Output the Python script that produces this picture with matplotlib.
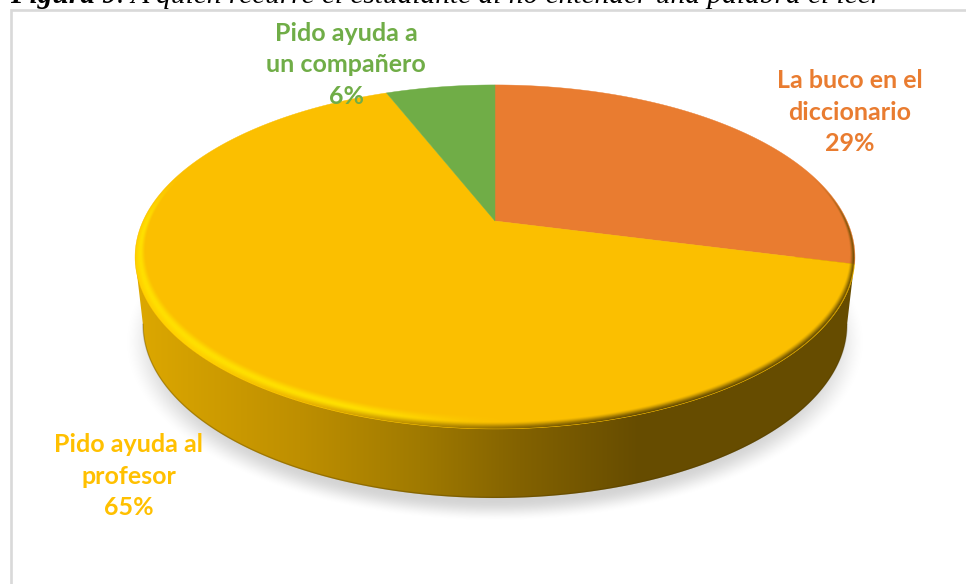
# %% IMPORTS
import numpy as np
import matplotlib
matplotlib.use("Agg")
import matplotlib.pyplot as plt
from matplotlib.patches import Polygon, PathPatch
from matplotlib.path import Path
from matplotlib.colors import to_rgb

# %% DATA
categories = ["La buco en el\ndiccionario", "Pido ayuda al\nprofesor", "Pido ayuda a\nun compañero"]
values = [29, 65, 6]
colors = ["#E97C30", "#FBBF00", "#70AD47"]
label_colors = ["#E97C30", "#FFC000", "#70AD47"]
label_x = [850, 129, 346]
label_y = [112, 476, 65]

title_bold = "Figura 9"
title_rest = ". A quién recurre el estudiante al no entender una palabra el leer"

# side wall colour along x
wall_x = [135, 300, 420, 520, 640, 860]
wall_c = ["#DDA800", "#BE8F00", "#A07A00", "#836200", "#664C00", "#664C00"]
# rim colours along x
rim_x = [200, 300, 420, 520, 640]
rim_edge = ["#FFD000", "#EDB400", "#B88C00", "#866400", "#664C00"]

# %% GEOMETRY
CX, CY = 495, 221          # centre of the pie as seen in perspective
A, B, K = 352.0, 164.5, 0.209
W, H = 966, 584


def project(theta):
    # theta clockwise from the top of the disc
    u, v = np.sin(theta), np.cos(theta)
    w = 1 + K * v
    return CX + A * u / w, CY - B * v / w


def ramp(x, xs, cs):
    rgb = np.array([to_rgb(c) for c in cs])
    return np.stack([np.interp(x, xs, rgb[:, i]) for i in range(3)], axis=-1)


def smooth(t):
    t = np.clip(t, 0, 1)
    return t * t * (3 - 2 * t)


def layer(rgb, alpha, z):
    img = np.zeros((H, W, 4))
    img[..., :3] = rgb
    img[..., 3] = alpha
    ax.imshow(img, extent=(0, W, H, 0), aspect="auto", zorder=z)


# %% FIGURE
fig = plt.figure(figsize=(W / 100, H / 100), dpi=100)
ax = fig.add_axes([0, 0, 1, 1])
yy, xx = np.mgrid[0:H, 0:W] + 0.5

# shadow:
r = np.hypot((xx - 495) / 372, (yy - 342) / 180)
layer(0.0, 0.17 * smooth((1 - r) / 0.12), 1)

# side wall, clipped to the outline of the lower disc:
t = np.linspace(np.pi / 2, 3 * np.pi / 2, 200)
low_x = 495 + 352 * np.sin(t)
low_y = 325 - 173 * np.cos(t)
wall_outline = np.vstack([[[855, 257]], np.column_stack([low_x, low_y]), [[135, 257]]])
wall_patch = PathPatch(Path(np.vstack([wall_outline, wall_outline[:1]]), closed=True),
                       transform=ax.transData, fc="none", ec="none")
ax.add_patch(wall_patch)
wall_im = ax.imshow(ramp(xx[:1], wall_x, wall_c), extent=(0, W, H, 0), aspect="auto", zorder=2)
wall_im.set_clip_path(wall_patch)
ax.plot(low_x, low_y - 0.6, color="#4A3700", lw=1.0, alpha=0.3, zorder=2.5)

# slices from the values:
start = 0.0
for i, val in enumerate(values):
    stop = start + val / sum(values) * 2 * np.pi
    arc = np.linspace(start, stop, 300)
    px, py = project(arc)
    pts = np.column_stack([np.r_[CX, px], np.r_[CY, py]])
    ax.add_patch(Polygon(pts, closed=True, fc=colors[i], ec=colors[i], lw=0.3, zorder=3))
    start = stop

# bevel on the rim of the disc:
inner = np.hypot((xx - 495) / 349, (yy - 250) / 164)
outer = np.hypot((xx - 495) / 360, (yy - 257) / 172)
band = np.clip((inner - 1) / np.maximum(inner - outer, 1e-3), 0, 1)
band[inner < 1] = 0
inside = np.clip((1 - outer) * 250, 0, 1)
fade = smooth((yy - 170) / 60)
glow = (1 - smooth((xx - 330) / 190)) * smooth(band / 0.55) * fade * inside
layer(to_rgb("#FFE000"), glow, 4)
layer(ramp(xx, rim_x, rim_edge), smooth((band - 0.5) / 0.5) * fade * inside, 4.1)

# frame of the chart area:
ax.plot([11, 11, W], [H, 10, 10], color="#D9D9D9", lw=1.9, zorder=5, solid_joinstyle="miter")

# labels:
for i, cat in enumerate(categories):
    ax.text(label_x[i], label_y[i], f"{cat}\n{values[i]}%", color=label_colors[i], ha="center", va="center",
            family="Lato", fontweight="bold", fontsize=18, linespacing=1.43, zorder=6)

# title cut by the top of the image:
t1 = ax.text(10, 3, title_bold, family="Liberation Serif", fontweight="bold", fontstyle="italic",
             fontsize=21.2, va="baseline", ha="left", zorder=6)
fig.canvas.draw()
bb = t1.get_window_extent()
ax.text(bb.x1, 3, title_rest, family="Liberation Serif", fontstyle="italic",
        fontsize=21.2, va="baseline", ha="left", zorder=6)

ax.set_xlim(0, W)
ax.set_ylim(H, 0)
ax.axis("off")
fig.savefig("out.png", dpi=100, facecolor="white")
